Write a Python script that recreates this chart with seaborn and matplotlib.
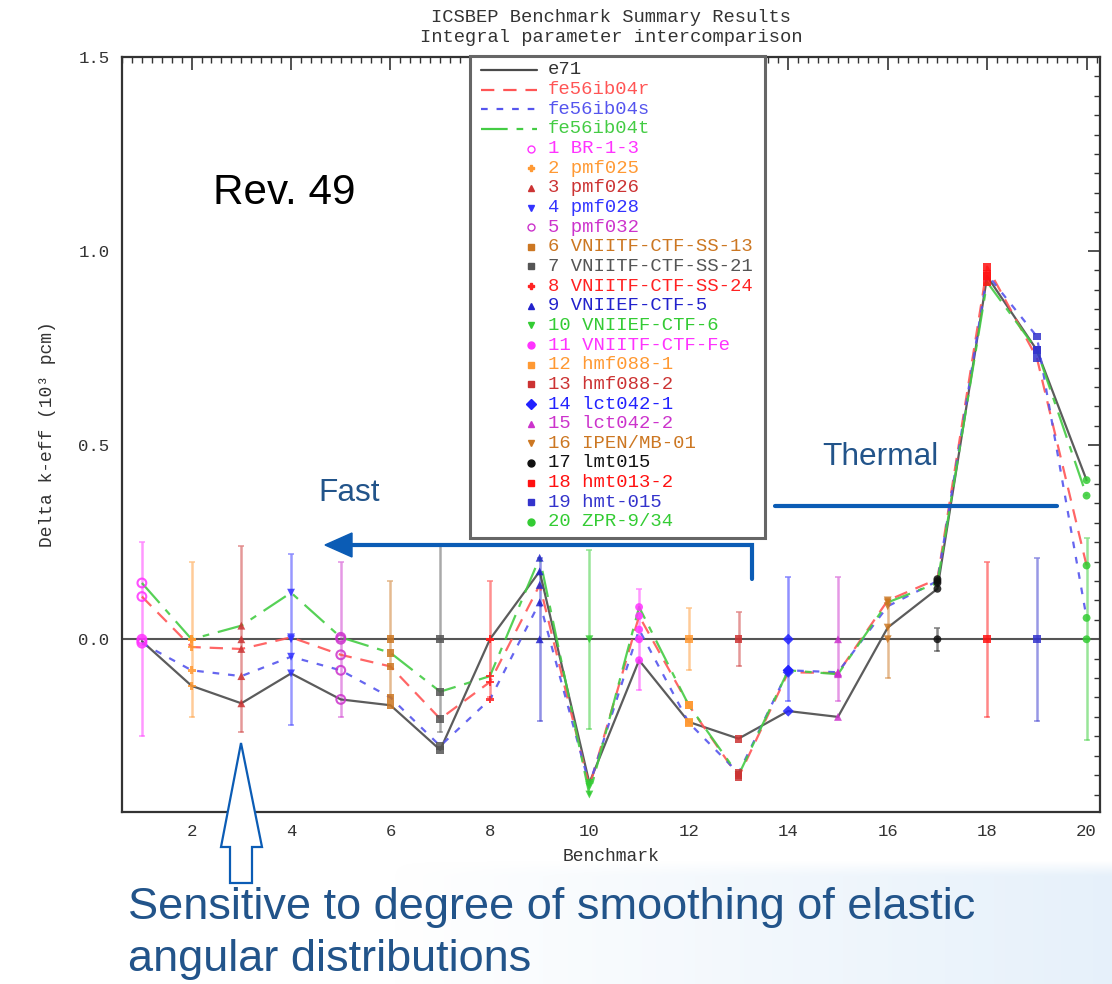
import numpy as np
import pandas as pd
import matplotlib
matplotlib.use("Agg")
import matplotlib.pyplot as plt
import seaborn as sns
from matplotlib.patches import Polygon, Rectangle
from matplotlib.lines import Line2D
from matplotlib.ticker import MultipleLocator

# ---------------- data ----------------
benchmarks = list(range(1, 21))
bench_names = ["BR-1-3", "pmf025", "pmf026", "pmf028", "pmf032",
               "VNIITF-CTF-SS-13", "VNIITF-CTF-SS-21", "VNIITF-CTF-SS-24",
               "VNIIEF-CTF-5", "VNIIEF-CTF-6", "VNIITF-CTF-Fe", "hmf088-1",
               "hmf088-2", "lct042-1", "lct042-2", "IPEN/MB-01", "lmt015",
               "hmt013-2", "hmt-015", "ZPR-9/34"]
exp_unc = [0.25, 0.20, 0.24, 0.22, 0.20, 0.15, 0.24, 0.15, 0.21, 0.23,
           0.13, 0.08, 0.07, 0.16, 0.16, 0.10, 0.03, 0.20, 0.21, 0.26]
e71 = [-0.005, -0.12, -0.165, -0.088, -0.155, -0.17, -0.285, 0.0, 0.175, -0.37,
       -0.054, -0.213, -0.256, -0.185, -0.20, 0.03, 0.13, 0.935, 0.745, 0.41]
fe56ib04r = [0.11, -0.02, -0.025, 0.005, -0.04, -0.07, -0.205, -0.11, 0.14, -0.38,
             0.06, -0.17, -0.355, -0.085, -0.087, 0.10, 0.155, 0.96, 0.725, 0.19]
fe56ib04s = [-0.01, -0.08, -0.095, -0.045, -0.08, -0.15, -0.275, -0.155, 0.095, -0.375,
             0.025, -0.215, -0.345, -0.08, -0.085, 0.085, 0.15, 0.94, 0.78, 0.055]
fe56ib04t = [0.145, 0.0, 0.035, 0.12, 0.005, -0.035, -0.135, -0.095, 0.21, -0.40,
             0.083, -0.17, -0.35, -0.08, -0.09, 0.095, 0.145, 0.92, 0.745, 0.37]
libraries = ["e71", "fe56ib04r", "fe56ib04s", "fe56ib04t"]

# ---------------- styles ----------------
lib_colors = {"e71": "#4a4a4a", "fe56ib04r": "#ff5555",
              "fe56ib04s": "#5555ee", "fe56ib04t": "#44cc44"}
lib_dashes = {"e71": "", "fe56ib04r": (6, 4), "fe56ib04s": (3, 4),
              "fe56ib04t": (12, 4, 3, 4)}
bench_colors = ["#ff33ff", "#ff9933", "#cc3333", "#3333ff", "#cc33cc",
                "#cc7722", "#555555", "#ff2222", "#2222cc", "#33cc33",
                "#ff33ff", "#ff9933", "#cc3333", "#2222ff", "#cc33cc",
                "#cc7722", "#111111", "#ff1111", "#3333cc", "#33cc33"]
bench_markers = ["o", "P", "^", "v", "o", "s", "s", "P", "^", "v",
                 "o", "s", "s", "D", "^", "v", "o", "s", "s", "o"]
open_bench = {1, 5}

W, H = 1112, 984
sns.set_theme(style="white")
plt.rcParams["font.family"] = ["Liberation Mono", "DejaVu Sans Mono"]
mono = ["Liberation Mono", "DejaVu Sans Mono"]
sans = ["Liberation Sans", "DejaVu Sans"]

fig = plt.figure(figsize=(W / 100, H / 100), dpi=100)
fig.patch.set_facecolor("white")


def fx(x):
    return x / W


def fy(y):
    return 1 - y / H


# background gradient at bottom right (soft top edge)
bg = fig.add_axes([fx(390), 0, 1 - fx(390), fy(860)], zorder=-5)
gx = np.linspace(0, 1, 256)
gy = np.linspace(0, 1, 64)
grad = np.zeros((64, 256, 4))
grad[..., 0] = 0.88
grad[..., 1] = 0.93
grad[..., 2] = 0.98
vert = np.clip(gy / 0.12, 0, 1)[:, None]
grad[..., 3] = np.clip(gx, 0, 1)[None, :] * 0.8 * vert
bg.imshow(grad, aspect="auto", extent=[0, 1, 0, 1], interpolation="bilinear",
          origin="upper")
bg.axis("off")

ax = fig.add_axes([fx(122), fy(812), fx(1100) - fx(122), fy(57) - fy(812)])
ax.set_facecolor("white")

# zero line
ax.axhline(0, color="#555555", lw=1.5, zorder=2)

# library lines
df = pd.DataFrame({
    "bench": benchmarks * 4,
    "delta": e71 + fe56ib04r + fe56ib04s + fe56ib04t,
    "lib": sum([[l] * 20 for l in libraries], []),
})
sns.lineplot(data=df, x="bench", y="delta", hue="lib", style="lib",
             palette=lib_colors, dashes=lib_dashes, lw=1.6, alpha=0.9,
             legend=False, ax=ax, zorder=3)

# experimental error bars at zero
for b, u, c in zip(benchmarks, exp_unc, bench_colors):
    ax.errorbar([b], [0], yerr=[u], color=c, lw=1.8, capsize=2.5,
                capthick=1.2, alpha=0.5, fmt="none", zorder=2)

# markers at every calculated value and at the experimental point
pts = []
for b in benchmarks:
    i = b - 1
    for v in (0.0, e71[i], fe56ib04r[i], fe56ib04s[i], fe56ib04t[i]):
        pts.append((b, v))
pdf = pd.DataFrame(pts, columns=["bench", "delta"])
filled = pdf[~pdf["bench"].isin(open_bench)]
sns.scatterplot(data=filled, x="bench", y="delta", hue="bench", style="bench",
                palette={b: bench_colors[b - 1] for b in benchmarks},
                markers={b: bench_markers[b - 1] for b in benchmarks},
                s=32, linewidth=0, alpha=0.85, legend=False, ax=ax, zorder=4)
for b in open_bench:
    sub = pdf[pdf["bench"] == b]
    ax.scatter(sub["bench"], sub["delta"], s=40, facecolors="none",
               edgecolors=bench_colors[b - 1], linewidths=1.5, alpha=0.85, zorder=4)

ax.set_xlim(0.6, 20.27)
ax.set_ylim(-0.445, 1.5)
ax.xaxis.set_major_locator(MultipleLocator(2))
ax.xaxis.set_minor_locator(MultipleLocator(0.2))
ax.yaxis.set_major_locator(MultipleLocator(0.5))
ax.yaxis.set_minor_locator(MultipleLocator(0.05))
ax.tick_params(which="both", direction="in", top=True, right=True,
               color="#333333", labelsize=12.5, labelcolor="#333333")
ax.tick_params(which="major", length=9, width=1.2, pad=9)
ax.tick_params(which="minor", length=4, width=1.0)
ax.set_xticks(range(2, 21, 2))
ax.set_yticks([0.0, 0.5, 1.0, 1.5])
ax.set_yticklabels(["0.0", "0.5", "1.0", "1.5"])
for sp in ax.spines.values():
    sp.set_color("#333333")
    sp.set_linewidth(1.6)
ax.set_xlabel("Benchmark", fontsize=13, color="#333333", labelpad=6)
ax.set_ylabel("Delta k-eff (10³ pcm)", fontsize=13, color="#333333", labelpad=16)

fig.text(fx(611), fy(18), "ICSBEP Benchmark Summary Results", ha="center",
         va="center", fontsize=13.5, color="#333333", family=mono)
fig.text(fx(611), fy(38), "Integral parameter intercomparison", ha="center",
         va="center", fontsize=13.5, color="#333333", family=mono)

# ---------------- manual legend box ----------------
fig.patches.append(Rectangle((fx(470), fy(538)), fx(765) - fx(470), fy(56) - fy(538),
                             transform=fig.transFigure, facecolor="white",
                             edgecolor="#666666", lw=2.2, zorder=5))
row0, dy = 70, 19.65
for k, lib in enumerate(libraries):
    y = row0 + k * dy
    ls = "-" if lib == "e71" else (0, lib_dashes[lib])
    fig.lines.append(Line2D([fx(481), fx(537)], [fy(y), fy(y)],
                            transform=fig.transFigure, color=lib_colors[lib],
                            lw=1.6, linestyle=ls, zorder=6))
    fig.text(fx(548), fy(y), lib, fontsize=13.6, va="center", ha="left",
             color=lib_colors[lib] if lib != "e71" else "#333333",
             family=mono, zorder=6)
for b in benchmarks:
    y = row0 + (b + 3) * dy
    c = bench_colors[b - 1]
    mfc = "none" if b in open_bench else c
    fig.lines.append(Line2D([fx(531)], [fy(y)], transform=fig.transFigure,
                            marker=bench_markers[b - 1], ms=5, color=c,
                            mfc=mfc, mec=c, lw=0, zorder=6))
    fig.text(fx(548), fy(y), f"{b} {bench_names[b - 1]}", fontsize=13.6,
             va="center", ha="left", color=c, family=mono, zorder=6)

# ---------------- slide annotations ----------------
blue = "#0b5cb5"
txtblue = "#22548a"
fig.text(fx(213), fy(193), "Rev. 49", fontsize=30.4, va="center", ha="left",
         color="black", family=sans, zorder=7)
fig.text(fx(318), fy(493), "Fast", fontsize=22.8, va="center", ha="left",
         color=txtblue, family=sans, zorder=7)
fig.text(fx(822), fy(457), "Thermal", fontsize=22.8, va="center", ha="left",
         color=txtblue, family=sans, zorder=7)
fig.text(fx(128), fy(907), "Sensitive to degree of smoothing of elastic",
         fontsize=32.5, va="center", ha="left", color=txtblue, family=sans, zorder=7)
fig.text(fx(128), fy(960), "angular distributions",
         fontsize=32.5, va="center", ha="left", color=txtblue, family=sans, zorder=7)

fig.lines.append(Line2D([fx(752), fx(752), fx(348)], [fy(579), fy(545), fy(545)],
                        transform=fig.transFigure, color=blue, lw=3.0,
                        solid_joinstyle="miter", zorder=7))
fig.patches.append(Polygon([(fx(325), fy(545)), (fx(352), fy(533)), (fx(352), fy(557))],
                           closed=True, transform=fig.transFigure, facecolor=blue,
                           edgecolor=blue, zorder=7))
fig.lines.append(Line2D([fx(775), fx(1057)], [fy(506), fy(506)],
                        transform=fig.transFigure, color=blue, lw=3.0, zorder=7))
fig.patches.append(Polygon([(fx(241), fy(743)), (fx(262), fy(847)), (fx(252), fy(847)),
                            (fx(252), fy(883)), (fx(230), fy(883)), (fx(230), fy(847)),
                            (fx(221), fy(847))], closed=True,
                           transform=fig.transFigure, facecolor="white",
                           edgecolor=blue, lw=1.6, zorder=7))

fig.savefig("out.png", dpi=100)
